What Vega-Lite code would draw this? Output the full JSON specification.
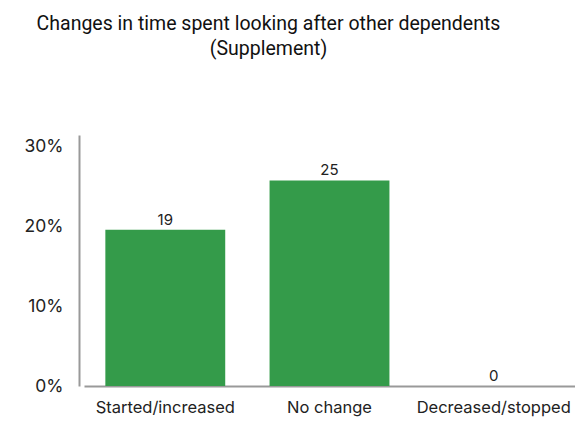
{
  "$schema": "https://vega.github.io/schema/vega-lite/v6.json",
  "width": 491,
  "height": 251,
  "autosize": "none",
  "padding": {"left": 84, "top": 135, "right": 0, "bottom": 35},
  "background": "white",
  "title": {
    "text": ["Changes in time spent looking after other dependents", "(Supplement)"],
    "font": "Roboto",
    "fontSize": 19.5,
    "fontWeight": "normal",
    "color": "#111111",
    "anchor": "middle",
    "dx": -61,
    "offset": 76,
    "lineHeight": 25
  },
  "data": {
    "values": [
      {"category": "Started/increased", "pct": 0.196, "label": "19"},
      {"category": "No change", "pct": 0.258, "label": "25"},
      {"category": "Decreased/stopped", "pct": 0, "label": "0"}
    ]
  },
  "encoding": {
    "x": {
      "field": "category",
      "type": "nominal",
      "sort": null,
      "scale": {"paddingInner": 0.27, "paddingOuter": 0.13},
      "axis": {
        "title": null,
        "labelAngle": 0,
        "labelFont": "Inter",
        "labelFontSize": 16.5,
        "labelColor": "#222222",
        "labelPadding": 13,
        "ticks": false,
        "tickSize": 0,
        "domainColor": "#999999",
        "domainWidth": 2
      }
    },
    "y": {
      "field": "pct",
      "type": "quantitative",
      "scale": {"domain": [0, 0.315], "nice": false},
      "axis": {
        "title": null,
        "values": [0, 0.1, 0.2, 0.3],
        "format": ".0%",
        "grid": false,
        "ticks": false,
        "tickSize": 0,
        "offset": 5,
        "labelFont": "Inter",
        "labelFontSize": 17.5,
        "labelColor": "#222222",
        "labelPadding": 16,
        "domainColor": "#999999",
        "domainWidth": 2
      }
    }
  },
  "layer": [
    {"mark": {"type": "bar", "color": "#349B4A"}},
    {
      "mark": {"type": "text", "baseline": "alphabetic", "dy": -5, "font": "Inter", "fontSize": 15, "color": "#222222"},
      "encoding": {"text": {"field": "label"}}
    }
  ],
  "config": {"view": {"stroke": null}}
}
